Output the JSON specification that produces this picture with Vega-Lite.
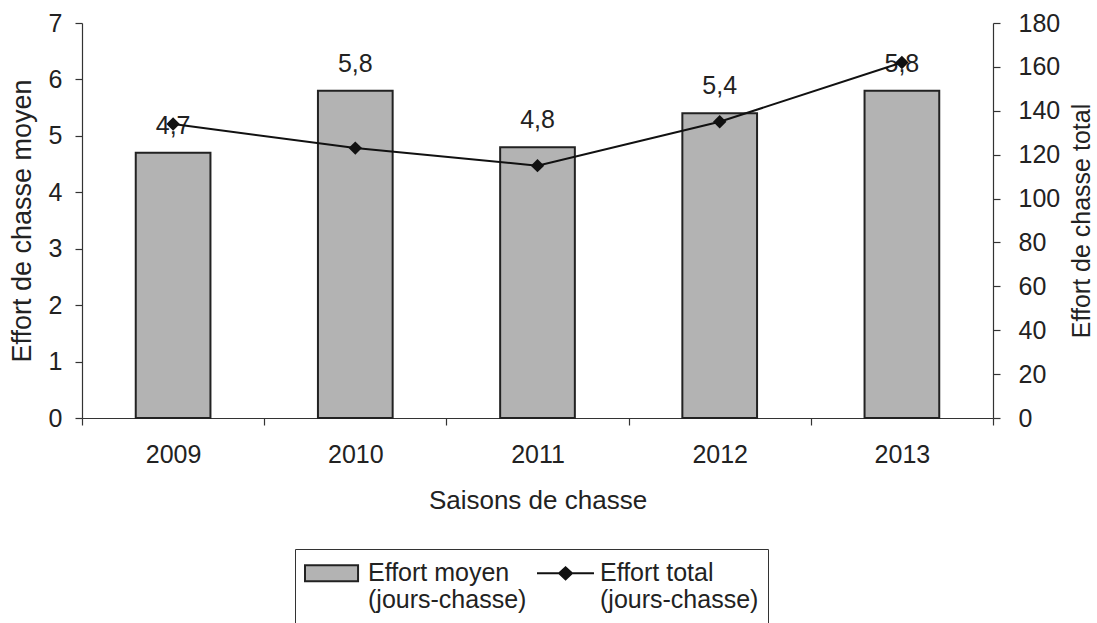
{
  "$schema": "https://vega.github.io/schema/vega-lite/v6.json",
  "width": 911,
  "height": 395,
  "autosize": "none",
  "padding": {"left": 82, "top": 23, "right": 104, "bottom": 205},
  "background": "white",
  "config": {
    "font": "Liberation Sans",
    "view": {"stroke": null},
    "axis": {
      "labelFont": "Liberation Sans",
      "titleFont": "Liberation Sans",
      "labelFontSize": 25,
      "titleFontSize": 26,
      "titleFontWeight": "normal",
      "labelColor": "#222222",
      "titleColor": "#222222",
      "domainColor": "#333333",
      "tickColor": "#333333",
      "domainWidth": 1.2,
      "tickWidth": 1.2,
      "tickSize": 7,
      "grid": false
    }
  },
  "data": {
    "values": [
      {"saison": "2009", "moyen": 4.7, "label": "4,7", "total": 134},
      {"saison": "2010", "moyen": 5.8, "label": "5,8", "total": 123},
      {"saison": "2011", "moyen": 4.8, "label": "4,8", "total": 115},
      {"saison": "2012", "moyen": 5.4, "label": "5,4", "total": 135},
      {"saison": "2013", "moyen": 5.8, "label": "5,8", "total": 162}
    ]
  },
  "encoding": {
    "x": {
      "field": "saison",
      "type": "nominal",
      "scale": {"paddingInner": 0, "paddingOuter": 0},
      "axis": {
        "title": "Saisons de chasse",
        "labelAngle": 0,
        "tickBand": "extent",
        "labelPadding": 17,
        "titlePadding": 20
      }
    }
  },
  "layer": [
    {
      "encoding": {
        "y": {
          "field": "moyen",
          "type": "quantitative",
          "scale": {"domain": [0, 7], "nice": false},
          "axis": {
            "title": "Effort de chasse moyen",
            "titleFontSize": 27,
            "orient": "left",
            "values": [0, 1, 2, 3, 4, 5, 6, 7],
            "labelPadding": 13,
            "titlePadding": 12
          }
        }
      },
      "layer": [
        {
          "mark": {"type": "bar", "width": {"band": 0.41}, "fill": "#b3b3b3", "stroke": "#222222", "strokeWidth": 2}
        },
        {
          "mark": {"type": "text", "baseline": "alphabetic", "dy": -19, "fontSize": 25, "color": "#222222", "font": "Liberation Sans"},
          "encoding": {"text": {"field": "label"}}
        }
      ]
    },
    {
      "mark": {
        "type": "line",
        "color": "#111111",
        "strokeWidth": 2,
        "point": {"shape": "diamond", "size": 180, "filled": true, "color": "#111111"}
      },
      "encoding": {
        "y": {
          "field": "total",
          "type": "quantitative",
          "scale": {"domain": [0, 180], "nice": false},
          "axis": {
            "title": "Effort de chasse total",
            "titleFontSize": 25,
            "orient": "right",
            "values": [0, 20, 40, 60, 80, 100, 120, 140, 160, 180],
            "labelPadding": 18,
            "titlePadding": 10,
            "titleAngle": -90,
            "titleBaseline": "top"
          }
        }
      }
    },
    {
      "data": {"values": []},
      "mark": {"type": "point", "filled": true, "opacity": 1, "strokeWidth": 2},
      "encoding": {
        "fill": {
          "field": "serie",
          "type": "nominal",
          "scale": {
            "domain": ["Effort moyen|(jours-chasse)", "Effort total|(jours-chasse)"],
            "range": ["#b3b3b3", "#111111"]
          },
          "legend": {
            "orient": "none",
            "legendX": 213,
            "legendY": 526,
            "direction": "horizontal",
            "columns": 2,
            "title": null,
            "strokeColor": "#333333",
            "padding": 9,
            "symbolSize": 784,
            "symbolOpacity": 1,
            "symbolStrokeWidth": 2,
            "labelFont": "Liberation Sans",
            "labelFontSize": 25,
            "labelColor": "#222222",
            "labelLimit": 400,
            "labelOffset": 34,
            "columnPadding": 6,
            "labelBaseline": "middle",
            "labelExpr": "split(datum.label, '|')"
          }
        },
        "shape": {
          "field": "serie",
          "type": "nominal",
          "scale": {
            "domain": ["Effort moyen|(jours-chasse)", "Effort total|(jours-chasse)"],
            "range": ["M-1,-0.57H2.79V0.57H-1ZM1,3.6", "M-1,0H3.07M0.58,0L1.04,-0.43L1.5,0L1.04,0.43ZM1,3.6"]
          }
        },
        "stroke": {
          "field": "serie",
          "type": "nominal",
          "scale": {
            "domain": ["Effort moyen|(jours-chasse)", "Effort total|(jours-chasse)"],
            "range": ["#222222", "#111111"]
          }
        }
      }
    }
  ],
  "resolve": {"scale": {"y": "independent"}}
}
